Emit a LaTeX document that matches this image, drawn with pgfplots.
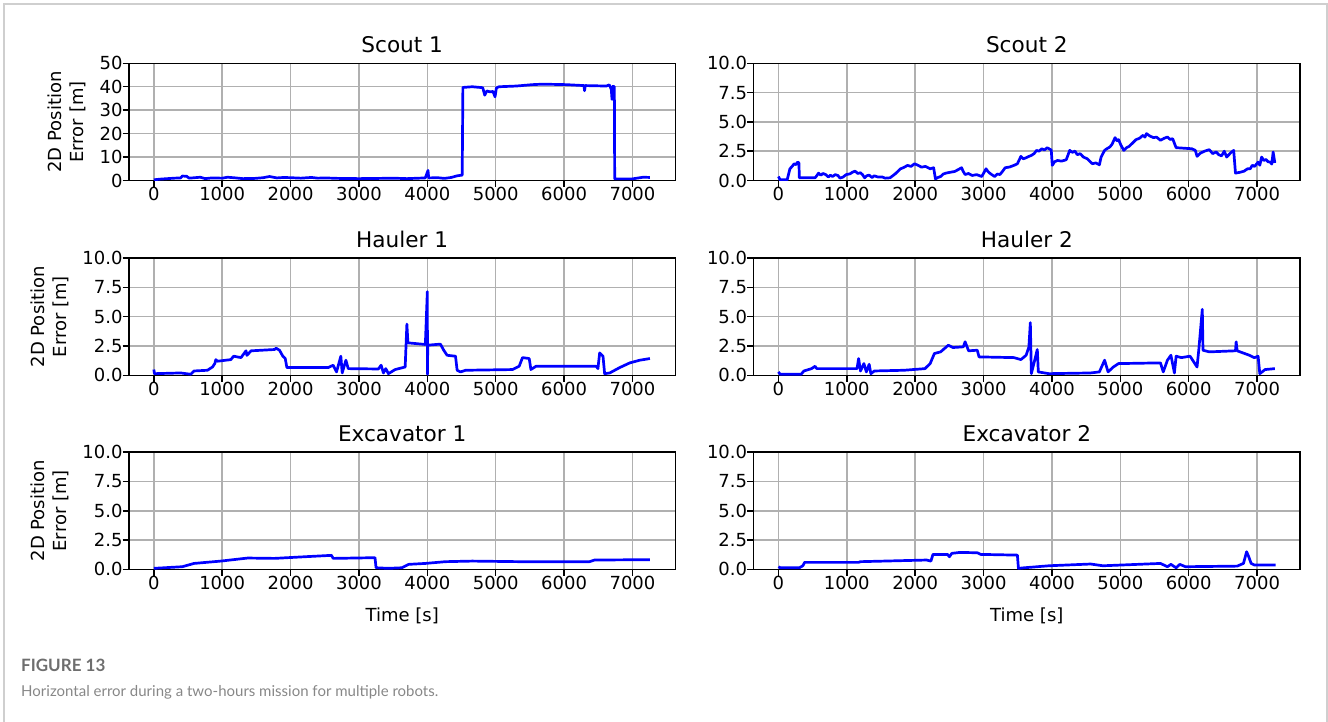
\documentclass[border=0pt]{standalone}
\usepackage{pgfplots}
\pgfplotsset{compat=1.18}
\usepackage{fontspec}
\setmainfont{DejaVu Sans}
\newfontfamily\capfont{Lato}

\definecolor{gridgray}{HTML}{B0B0B0}
\definecolor{framegray}{HTML}{CFCFCF}
\definecolor{capdark}{HTML}{6E6E6E}
\definecolor{caplight}{HTML}{878787}
\definecolor{lineblue}{RGB}{0,0,255}

\newcommand\tickfont{\fontsize{18bp}{21.6bp}\selectfont}
\newcommand\titlefont{\fontsize{21.6bp}{26bp}\selectfont}

\pgfplotsset{
  panel/.style={
    scale only axis, width=546.4bp, height=117.2bp,
    xmin=-363, xmax=7628, ymin=0,
    xtick={0,1000,...,7000},
    grid=major,
    major grid style={color=gridgray, line width=1.44bp},
    axis line style={line width=1.44bp},
    tick align=outside, xtick pos=bottom, ytick pos=left,
    major tick length=6.3bp,
    every tick/.style={black, line width=1.44bp},
    ticklabel style={font=\tickfont},
    /pgf/number format/1000 sep={},
    /pgf/number format/assume math mode=true,
    xticklabel style={anchor=north, inner sep=0pt},
    yticklabel style={anchor=east, inner sep=0pt},
    title style={font=\titlefont, anchor=base, inner sep=0pt,
      at={(axis description cs:0.5,1)}, yshift=4.6bp},
    no markers,
    every axis plot/.append style={color=lineblue, line width=2.7bp,
      line join=round},
  },
  small/.style={ymax=10, ytick={0,2.5,...,10},
    yticklabel style={/pgf/number format/.cd, fixed, fixed zerofill, precision=1}},
  ylab/.style={ylabel={2D Position\\Error [m]},
    ylabel style={at={(axis description cs:#1,0.5)},
      anchor=south, inner sep=0pt, align=center, font=\tickfont}},
  xlab/.style={xlabel={Time [s]},
    xlabel style={at={(axis description cs:0.5,0)}, anchor=base,
      inner sep=0pt, yshift=-52.2bp, font=\tickfont}},
}

\begin{document}
\begin{tikzpicture}
\path[use as bounding box] (0bp,0bp) rectangle (1328bp,-722bp);
\draw[framegray, line width=1.4bp] (4bp,-722bp) -- (4bp,-4bp) -- (1327bp,-4bp) -- (1327bp,-722bp);

% Scout 1
\begin{axis}[panel, at={(129bp,-180.5bp)}, anchor=south west,
  ymax=50, ytick={0,10,...,50}, title={Scout 1}, ylab=-0.0787]
\addplot coordinates {
(0,0.3) (100,0.6) (200,0.8) (300,1.0) (392,1.1) (417,1.9) (480,1.8) (515,1.0)
(600,1.2) (680,1.4) (750,0.8) (850,1.1) (1000,1.0) (1078,1.4) (1200,1.1)
(1300,0.8) (1480,0.9) (1600,1.2) (1691,1.7) (1800,1.1) (1900,1.3) (2000,1.2)
(2150,1.0) (2304,1.3) (2400,1.0) (2500,1.1) (2700,0.9) (3000,0.8) (3300,0.9)
(3500,1.0) (3700,0.8) (3970,1.1) (4010,4.3) (4020,1.1) (4150,1.2) (4250,0.9)
(4350,1.3) (4436,2.0) (4510,2.3) (4520,39.7) (4657,40.0) (4810,39.6)
(4840,36.4) (4870,38.2) (4920,37.8) (4960,38.0) (4990,35.7) (5010,39.5)
(5049,40.0) (5300,40.3) (5539,40.9) (5686,41.1) (6029,40.9) (6290,40.5)
(6299,38.3) (6310,40.5) (6618,40.3) (6660,40.8) (6690,39.0) (6701,34.6)
(6715,40.2) (6735,40.0) (6740,0.7) (7000,0.7) (7157,1.4) (7255,1.3)
};
\end{axis}

% Scout 2
\begin{axis}[panel, small, at={(753.6bp,-180.5bp)}, anchor=south west,
  title={Scout 2}]
\addplot coordinates {
(0,0.34) (25,0.06) (128,0.06) (168,1.0) (200,1.2) (230,1.43) (255,1.35)
(281,1.57) (300,1.5) (306,0.23) (536,0.23) (560,0.4) (587,0.63) (620,0.45)
(650,0.6) (690,0.51) (730,0.3) (760,0.45) (791,0.34) (830,0.5) (870,0.43)
(900,0.2) (944,0.29) (990,0.5) (1046,0.57) (1080,0.7) (1122,0.8) (1160,0.6)
(1200,0.66) (1230,0.5) (1260,0.23) (1290,0.4) (1327,0.46) (1370,0.25)
(1400,0.4) (1460,0.29) (1520,0.3) (1560,0.2) (1633,0.23) (1709,0.57)
(1750,0.8) (1786,1.0) (1830,1.1) (1888,1.29) (1940,1.2) (1990,1.43)
(2040,1.3) (2092,1.14) (2150,1.2) (2219,1.0) (2270,1.09) (2296,0.14)
(2330,0.25) (2372,0.34) (2410,0.55) (2449,0.63) (2510,0.7) (2577,0.77)
(2620,0.9) (2679,1.09) (2700,0.8) (2730,0.51) (2780,0.6) (2832,0.43)
(2900,0.5) (2974,0.34) (3036,1.0) (3060,0.8) (3090,0.63) (3120,0.5)
(3163,0.34) (3200,0.55) (3240,0.51) (3280,0.8) (3316,1.09) (3380,1.15)
(3444,1.29) (3495,1.43) (3546,2.06) (3580,1.85) (3622,1.94) (3660,2.05)
(3699,2.14) (3740,2.3) (3776,2.57) (3810,2.5) (3852,2.71) (3890,2.6)
(3929,2.8) (3960,2.7) (3990,2.6) (4005,1.29) (4040,1.6) (4082,1.71)
(4140,1.65) (4209,1.77) (4260,2.57) (4300,2.4) (4337,2.51) (4370,2.2)
(4413,2.29) (4460,2.0) (4515,1.86) (4560,1.6) (4592,1.43) (4640,1.5)
(4694,1.34) (4719,2.0) (4770,2.57) (4800,2.7) (4847,2.86) (4880,3.1)
(4923,3.66) (4950,3.4) (4974,3.49) (5010,3.0) (5051,2.57) (5090,2.8)
(5128,2.91) (5180,3.2) (5230,3.49) (5280,3.6) (5332,3.86) (5360,3.7)
(5383,4.0) (5430,3.8) (5485,3.66) (5530,3.7) (5587,3.43) (5640,3.6)
(5689,3.71) (5730,3.5) (5765,3.57) (5816,2.8) (6046,2.71) (6097,2.57)
(6122,2.06) (6173,2.34) (6230,2.5) (6301,2.63) (6350,2.3) (6403,2.43)
(6440,2.2) (6480,2.1) (6520,2.5) (6556,2.0) (6620,2.4) (6658,2.57)
(6684,0.63) (6750,0.7) (6811,0.8) (6860,1.0) (6900,1.0) (6930,1.3)
(6964,1.2) (7015,1.57) (7040,1.3) (7066,2.0) (7100,1.7) (7130,1.8)
(7160,1.6) (7194,1.57) (7215,1.4) (7235,2.43) (7260,1.5)
};
\end{axis}

% Hauler 1
\begin{axis}[panel, small, at={(129bp,-375.3bp)}, anchor=south west,
  title={Hauler 1}, ylab=-0.1098]
\addplot coordinates {
(0,0.49) (10,0.14) (392,0.2) (539,0.09) (588,0.37) (784,0.43) (858,0.71)
(892,1.0) (907,1.34) (930,1.2) (1127,1.34) (1167,1.63) (1275,1.51)
(1348,2.09) (1362,1.7) (1422,2.09) (1765,2.2) (1789,2.31) (1838,2.14)
(1887,1.63) (1922,1.43) (1946,0.66) (2549,0.66) (2623,0.86) (2672,0.29)
(2735,1.63) (2755,0.2) (2809,1.29) (2843,0.57) (3284,0.54) (3324,0.86)
(3358,0.2) (3392,0.57) (3431,0.14) (3529,0.49) (3676,0.71) (3701,4.37)
(3716,2.77) (3971,2.63) (4000,7.14) (4002,0.09) (4006,2.57) (4191,2.66)
(4240,2.14) (4289,1.71) (4412,1.63) (4436,0.43) (4485,0.29) (4559,0.43)
(5245,0.49) (5343,0.77) (5392,1.51) (5490,1.43) (5515,0.49) (5588,0.77)
(6471,0.77) (6495,0.57) (6520,1.91) (6569,1.63) (6593,0.14) (6667,0.2)
(6814,0.66) (6961,1.06) (7108,1.29) (7255,1.43)
};
\end{axis}

% Hauler 2
\begin{axis}[panel, small, at={(753.6bp,-375.3bp)}, anchor=south west,
  title={Hauler 2}]
\addplot coordinates {
(0,0.29) (25,0.09) (332,0.09) (372,0.37) (485,0.57) (536,0.77) (560,0.57)
(1149,0.57) (1173,1.43) (1200,0.37) (1250,1.0) (1286,0.29) (1327,0.94)
(1352,0.14) (1403,0.37) (1837,0.43) (2143,0.57) (2219,1.0) (2281,1.86)
(2372,2.0) (2485,2.57) (2551,2.37) (2704,2.43) (2730,2.86) (2781,2.09)
(2908,2.14) (2934,1.57) (3444,1.51) (3546,1.34) (3622,1.71) (3663,2.43)
(3684,4.49) (3699,0.14) (3786,2.2) (3801,0.29) (3954,0.14) (4566,0.2)
(4694,0.29) (4770,1.29) (4821,0.29) (4898,0.71) (4974,1.0) (5587,1.06)
(5628,0.29) (5689,1.29) (5740,1.71) (5791,0.2) (5816,1.63) (5893,1.51)
(6020,1.63) (6122,0.71) (6148,2.2) (6199,5.63) (6209,2.14) (6301,2.0)
(6684,2.09) (6694,2.86) (6709,2.09) (6888,1.71) (6960,1.5) (7015,1.63)
(7040,0.14) (7117,0.49) (7260,0.57)
};
\end{axis}

% Excavator 1
\begin{axis}[panel, small, at={(129bp,-569.4bp)}, anchor=south west,
  title={Excavator 1}, ylab=-0.1098, xlab]
\addplot coordinates {
(0,0.09) (417,0.23) (588,0.51) (980,0.71) (1373,0.97) (1765,0.94)
(2206,1.08) (2598,1.2) (2623,0.94) (3235,1.0) (3250,0.14) (3431,0.09)
(3627,0.14) (3725,0.43) (3971,0.51) (4265,0.66) (4657,0.71) (5343,0.66)
(6373,0.66) (6446,0.8) (7255,0.83)
};
\end{axis}

% Excavator 2
\begin{axis}[panel, small, at={(753.6bp,-569.4bp)}, anchor=south west,
  title={Excavator 2}, xlab]
\addplot coordinates {
(0,0.23) (25,0.14) (306,0.14) (357,0.31) (383,0.6) (1173,0.6) (1199,0.66)
(2168,0.8) (2230,0.71) (2260,1.28) (2474,1.28) (2500,1.08) (2536,1.37)
(2653,1.45) (2908,1.42) (2959,1.28) (3495,1.22) (3510,0.09) (3597,0.14)
(3954,0.31) (4566,0.46) (4745,0.31) (5587,0.51) (5638,0.37) (5689,0.23)
(5740,0.43) (5816,0.14) (5870,0.43) (5952,0.23) (6709,0.28) (6801,0.51)
(6847,1.51) (6878,1.08) (6913,0.51) (6964,0.37) (7270,0.37)
};
\end{axis}

% caption
\node[anchor=base west, inner sep=0pt, text=capdark,
  font=\capfont\bfseries\fontsize{17bp}{20bp}\selectfont] at (21bp,-671bp) {FIGURE 13};
\node[anchor=base west, inner sep=0pt, text=caplight,
  font=\capfont\fontsize{15bp}{18bp}\selectfont] at (21bp,-696bp)
  {Horizontal error during a two-hours mission for multiple robots.};
\end{tikzpicture}
\end{document}
